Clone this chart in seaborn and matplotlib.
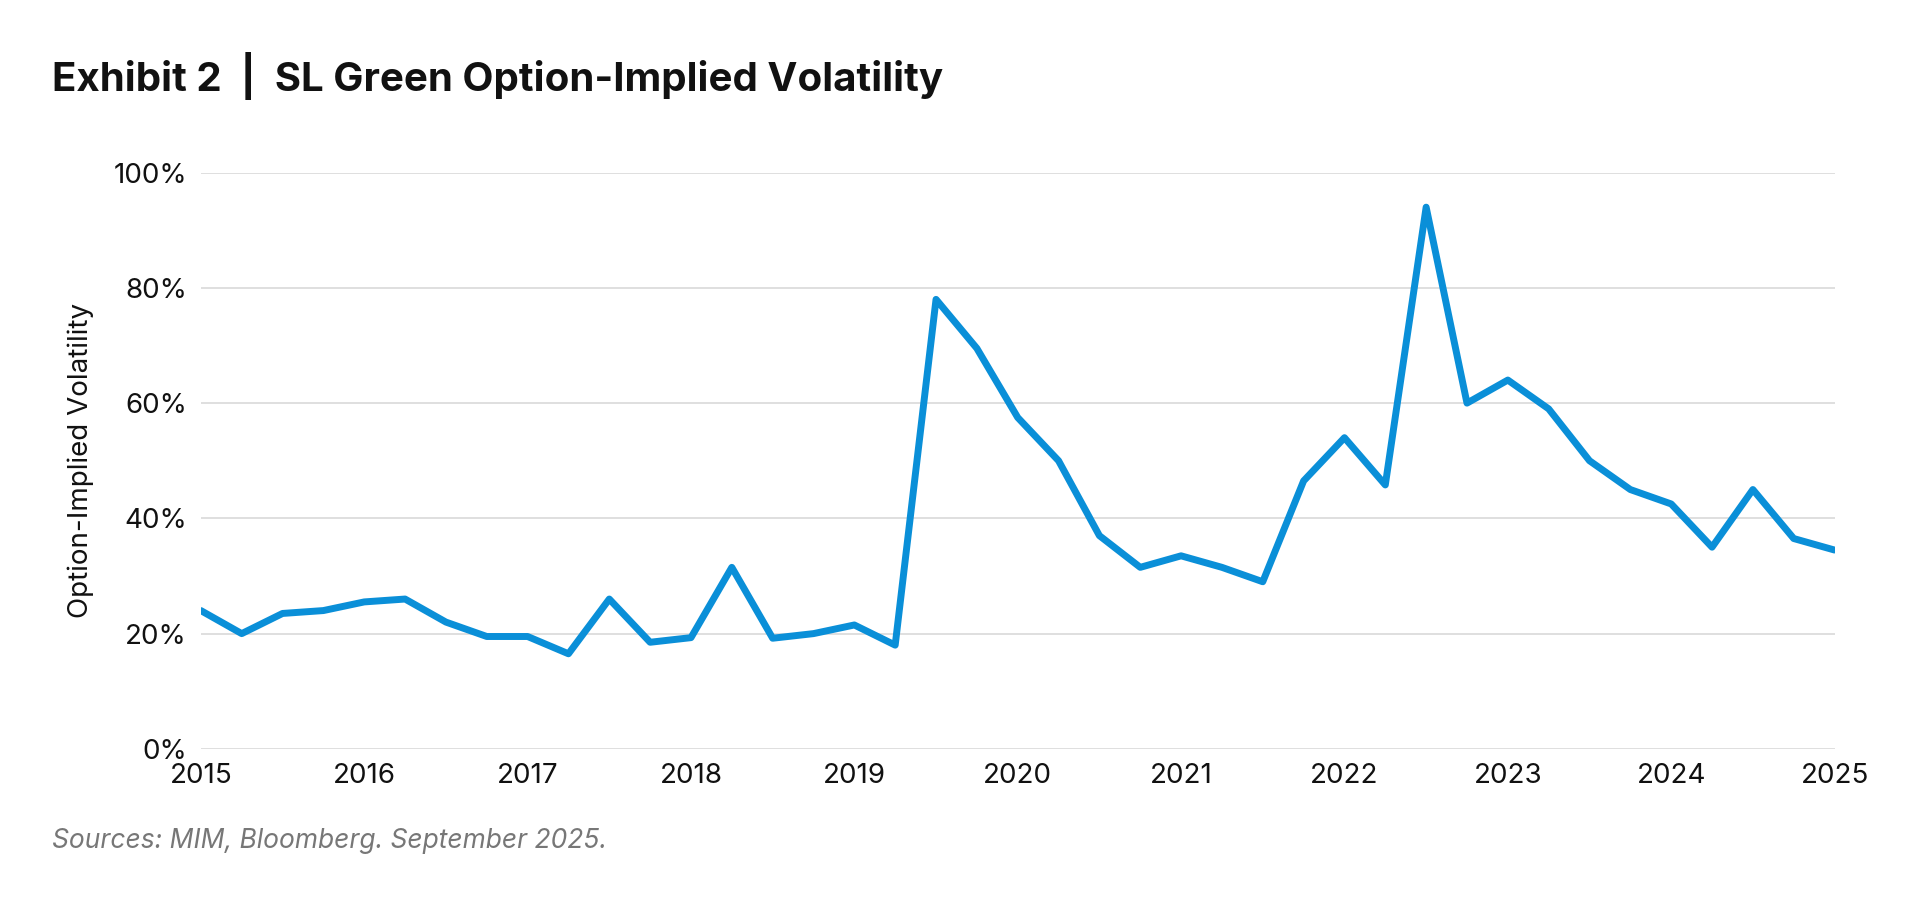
import numpy as np
import pandas as pd
import matplotlib
matplotlib.use("Agg")
import matplotlib.pyplot as plt
import seaborn as sns
from matplotlib.ticker import PercentFormatter

# quarterly option-implied volatility, 2015 Q1 .. 2025 Q1
years = [2015 + 0.25 * i for i in range(41)]
vol = [24, 20, 23.5, 24, 25.5, 26, 22, 19.5, 19.5, 16.5,
       26, 18.5, 19.3, 31.5, 19.2, 20, 21.5, 18, 78, 69.5,
       57.5, 50, 37, 31.5, 33.5, 31.5, 29, 46.5, 54, 45.8,
       94, 60, 64, 59, 50, 45, 42.5, 35, 45, 36.5, 34.5]
tick_years = list(range(2015, 2026))

df = pd.DataFrame({"year": years, "vol": vol})

sns.set_theme(style="white")
plt.rcParams["font.family"] = ["Inter", "DejaVu Sans"]

fig = plt.figure(figsize=(19.13, 8.99), dpi=100)
ax = fig.add_axes([0.105, 0.167, 0.854, 0.641])

sns.lineplot(data=df, x="year", y="vol", ax=ax, color="#0A8FD8", linewidth=5)

ax.set_xlim(2015, 2025)
ax.set_ylim(0, 100)
ax.set_xticks(tick_years)
ax.set_yticks([0, 20, 40, 60, 80, 100])
ax.yaxis.set_major_formatter(PercentFormatter(decimals=0))
ax.grid(axis="y", color="#d9d9d9", linewidth=1.2)
sns.despine(ax=ax, left=True, bottom=True)
ax.tick_params(axis="both", labelsize=20, colors="#111111", length=0, pad=10)
ax.set_xlabel("")
ax.set_ylabel("Option-Implied Volatility", fontsize=20, color="#111111", labelpad=14)

fig.text(0.027, 0.915, "Exhibit 2  |  SL Green Option-Implied Volatility",
         fontsize=29, fontweight="bold", color="#111111", va="center")
fig.text(0.027, 0.064, "Sources: MIM, Bloomberg. September 2025.",
         fontsize=19, style="italic", color="#777777", va="center")

fig.savefig("out.png", dpi=100, facecolor="white")
